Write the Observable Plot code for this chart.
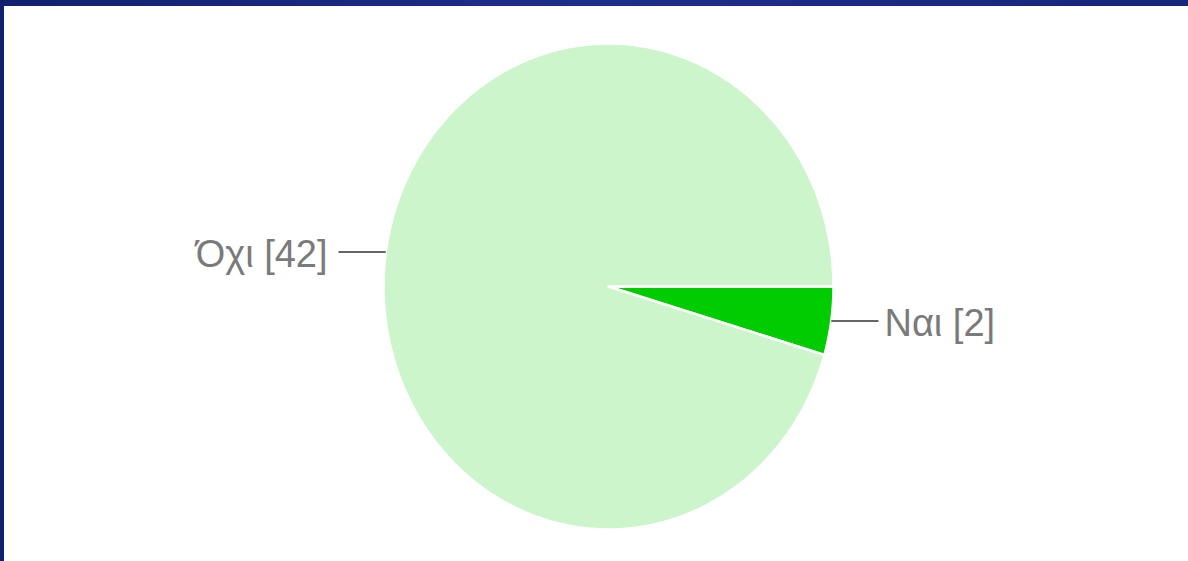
<!DOCTYPE html>
<html><head><meta charset="utf-8">
<script src="https://cdn.jsdelivr.net/npm/d3@7"></script>
<script src="https://cdn.jsdelivr.net/npm/@observablehq/plot@0.6"></script>
<style>
html,body{margin:0;padding:0;width:1188px;height:561px;overflow:hidden;background:linear-gradient(90deg,#122070,#1e2f8c 50%,#17257a);}
#panel{position:absolute;left:4px;top:6px;width:1184px;height:555px;background:#fff;}
</style></head><body><div id="panel"></div>
<script>
const categories = ["Ναι", "Όχι"];
const counts = [2, 42];
const sliceColors = ["#00cc00", "#ccf5cc"];

const arcs = d3.pie().sort(null).startAngle(Math.PI / 2).endAngle(Math.PI / 2 + 2 * Math.PI)(counts);
const slices = arcs.flatMap((a, i) => {
  const n = Math.max(2, Math.ceil((a.endAngle - a.startAngle) / (Math.PI / 180)));
  const pts = [{k: categories[i], x: 0, y: 0}];
  for (let j = 0; j <= n; j++) {
    const t = a.startAngle + (a.endAngle - a.startAngle) * j / n;
    pts.push({k: categories[i], x: Math.sin(t), y: Math.cos(t)});
  }
  pts.push({k: categories[i], x: 0, y: 0});
  return pts;
});
const labels = arcs.map((a, i) => {
  const m = (a.startAngle + a.endAngle) / 2;
  const x = Math.sin(m), y = Math.cos(m), s = Math.sign(x);
  return {k: categories[i], label: `${categories[i]} [${counts[i]}]`, x1: x, y, x2: x + s * 0.21, side: s};
});

const chart = Plot.plot({
  width: 1184, height: 555, margin: 0,
  style: {background: "white", overflow: "visible"},
  x: {domain: [-1, 1], range: [379, 829], axis: null},
  y: {domain: [-1, 1], range: [523, 37], axis: null},
  color: {domain: categories, range: sliceColors},
  marks: [
    Plot.line(slices, {x: "x", y: "y", z: "k", fill: "k", stroke: "white", strokeWidth: 2.5, curve: "linear"}),
    Plot.link(labels, {x1: "x1", y1: "y", x2: "x2", y2: "y", stroke: "#666", strokeWidth: 2}),
    Plot.text(labels.filter(d => d.side > 0), {x: "x2", y: "y", text: "label", textAnchor: "start", dx: 6, dy: 3, fontSize: 38, fill: "#7a7a7a", fontFamily: "Liberation Sans, Arial, sans-serif"}),
    Plot.text(labels.filter(d => d.side < 0), {x: "x2", y: "y", text: "label", textAnchor: "end", dx: -11, dy: 3, fontSize: 38, fill: "#7a7a7a", fontFamily: "Liberation Sans, Arial, sans-serif"})
  ]
});
document.getElementById("panel").appendChild(chart);
</script></body></html>
